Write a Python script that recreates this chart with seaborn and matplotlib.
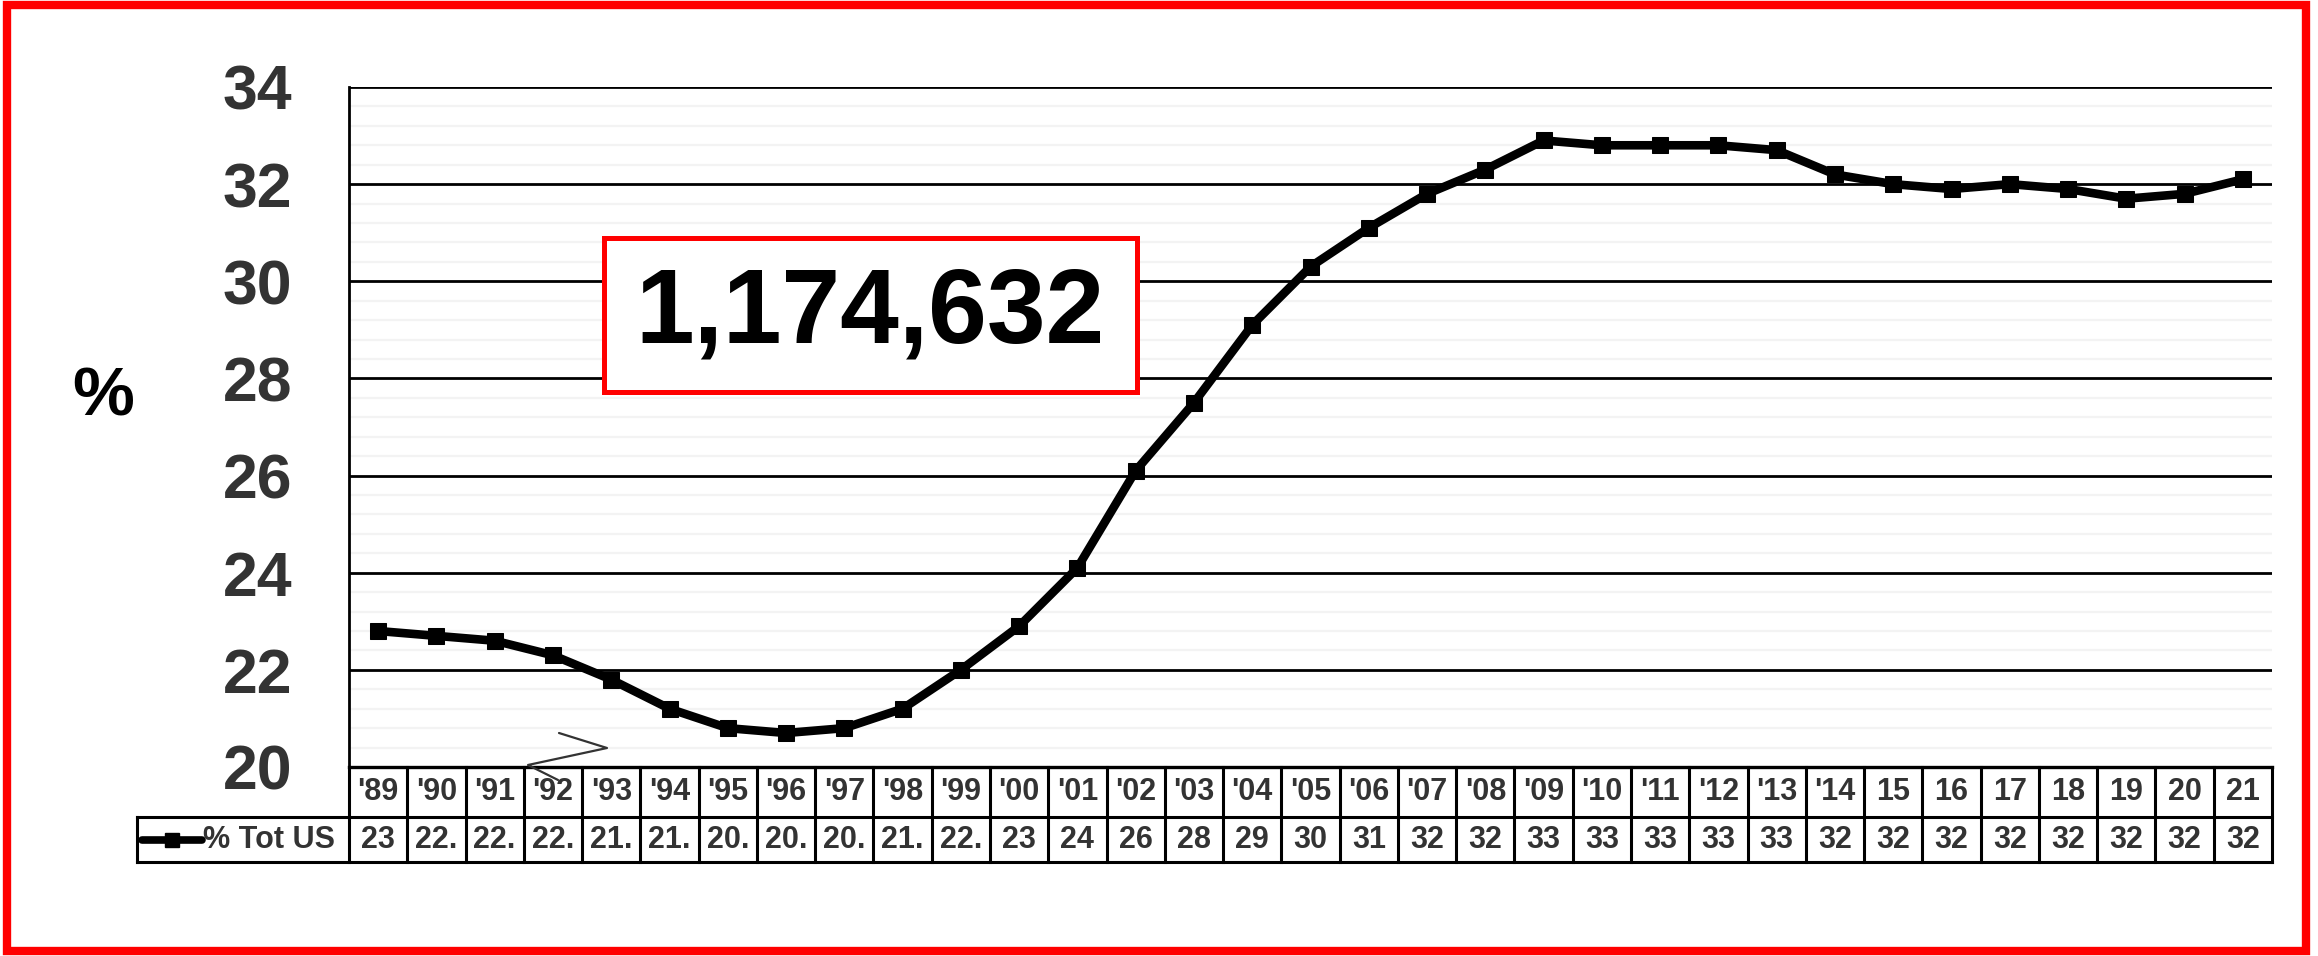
import numpy as np
import matplotlib
matplotlib.use("Agg")
import matplotlib.pyplot as plt
import seaborn as sns
from matplotlib.patches import Rectangle
from matplotlib.lines import Line2D
from matplotlib.ticker import MultipleLocator
import matplotlib.transforms as mtransforms

# ---------------- data ----------------
years = ["'89", "'90", "'91", "'92", "'93", "'94", "'95", "'96", "'97", "'98",
         "'99", "'00", "'01", "'02", "'03", "'04", "'05", "'06", "'07", "'08",
         "'09", "'10", "'11", "'12", "'13", "'14", "15", "16", "17", "18",
         "19", "20", "21"]
share = [22.8, 22.7, 22.6, 22.3, 21.8, 21.2, 20.8, 20.7, 20.8, 21.2,
         22.0, 22.9, 24.1, 26.1, 27.5, 29.1, 30.3, 31.1, 31.8, 32.3,
         32.9, 32.8, 32.8, 32.8, 32.7, 32.2, 32.0, 31.9, 32.0, 31.9,
         31.7, 31.8, 32.1]
table_vals = ["23", "22.", "22.", "22.", "21.", "21.", "20.", "20.", "20.", "21.",
              "22.", "23", "24", "26", "28", "29", "30", "31", "32", "32",
              "33", "33", "33", "33", "33", "32", "32", "32", "32", "32",
              "32", "32", "32"]
series_name = "% Tot US"
total_label = "1,174,632"
y_ticks = [20, 22, 24, 26, 28, 30, 32, 34]
y_label = "%"

# ---------------- style ----------------
sns.set_style("white")
plt.rcParams['font.family'] = ['Liberation Sans', 'DejaVu Sans']

W, H = 2318, 956
fig = plt.figure(figsize=(W / 100, H / 100), dpi=100)
ax_l, ax_r, ax_t, ax_b = 349, 2272, 87, 767
ax = fig.add_axes([ax_l / W, 1 - ax_b / H, (ax_r - ax_l) / W, (ax_b - ax_t) / H])

n = len(years)
x = np.arange(n)
sns.lineplot(x=x, y=share, ax=ax, color="black", lw=6.2, marker="s",
             markersize=11.5, markeredgecolor="black", markerfacecolor="black",
             zorder=5, legend=False)

ax.set_xlim(-0.5, n - 0.5)
ax.set_ylim(20, 34)
ax.set_yticks(y_ticks)
ax.set_yticklabels([str(v) for v in y_ticks])
ax.yaxis.set_minor_locator(MultipleLocator(0.4))
ax.set_xticks([])
ax.grid(which="major", axis="y", color="black", lw=2.0)
ax.grid(which="minor", axis="y", color="#f3f3f3", lw=1.6)
ax.set_axisbelow(True)
ax.tick_params(axis="y", which="major", length=14, width=2.0, color="black",
               pad=27, labelsize=45, labelcolor="#333333")
ax.tick_params(axis="y", which="minor", length=0)
for lab in ax.get_yticklabels():
    lab.set_fontweight("bold")
for s in ["top", "right"]:
    ax.spines[s].set_visible(False)
ax.spines["left"].set_color("black")
ax.spines["left"].set_linewidth(2.0)
ax.spines["bottom"].set_color("black")
ax.spines["bottom"].set_linewidth(2.4)
ax.set_xlabel("")
ax.set_ylabel("")

# % label
fig.text(103 / W, 1 - 398 / H, y_label, ha="center", va="center",
         fontsize=50, fontweight="bold", color="black")

# ---------------- data table ----------------
trans = mtransforms.blended_transform_factory(ax.transData, ax.transAxes)
axh = ax_b - ax_t
colw = (ax_r - ax_l) / n
y1 = -50 / axh
y2 = -95 / axh
x_leg = -0.5 + (137 - ax_l) / colw
lw_t = 2.2
kw = dict(transform=trans, clip_on=False, color="black", lw=lw_t,
          solid_capstyle="projecting")
ax.plot([-0.5, n - 0.5], [y1, y1], **kw)
ax.plot([x_leg, n - 0.5], [y2, y2], **kw)
ax.plot([x_leg, -0.5], [y1, y1], **kw)
ax.plot([x_leg, x_leg], [y1, y2], **kw)
for i in range(n + 1):
    ax.plot([i - 0.5, i - 0.5], [0, y2], **kw)
for i in range(n):
    ax.text(i, y1 / 2, years[i], transform=trans, ha="center", va="center",
            fontsize=22, fontweight="bold", color="#333333")
    ax.text(i, (y1 + y2) / 2, table_vals[i], transform=trans, ha="center",
            va="center", fontsize=22, fontweight="bold", color="#333333")
# legend key in the table
xk0 = x_leg + (142 - 137) / colw
xk1 = x_leg + (202 - 137) / colw
ax.add_line(Line2D([xk0, xk1], [(y1 + y2) / 2] * 2, transform=trans,
                   clip_on=False, color="black", lw=5.5, solid_capstyle="round"))
ax.add_line(Line2D([(xk0 + xk1) / 2], [(y1 + y2) / 2], transform=trans,
                   clip_on=False, marker="s", markersize=9.5, color="black", lw=0))
ax.text(x_leg + (203 - 137) / colw, (y1 + y2) / 2, series_name, transform=trans,
        ha="left", va="center", fontsize=22, fontweight="bold", color="#333333")

# axis-break zigzag
zx = [559, 607, 528, 558]
zy = [733, 748, 765, 780]
fig.add_artist(Line2D([v / W for v in zx], [1 - v / H for v in zy],
                      color="#333333", lw=1.6))

# ---------------- total box ----------------
bx0, bx1, by0, by1 = 604, 1137, 238, 392
box = Rectangle(((bx0 - ax_l) / (ax_r - ax_l), (ax_b - by1) / axh),
                (bx1 - bx0) / (ax_r - ax_l), (by1 - by0) / axh,
                transform=ax.transAxes, facecolor="white", edgecolor="red",
                lw=3.6, zorder=6)
ax.add_patch(box)
ax.text(((bx0 + bx1) / 2 - ax_l) / (ax_r - ax_l), (ax_b - (by0 + by1) / 2) / axh,
        total_label, transform=ax.transAxes, ha="center", va="center",
        fontsize=76, fontweight="bold", color="black", zorder=7)

# ---------------- red frame ----------------
fig.add_artist(Rectangle((7 / W, 5 / H), (2306 - 7) / W, (951 - 5) / H,
                         transform=fig.transFigure, fill=False,
                         edgecolor="red", lw=6))

fig.savefig("out.png", dpi=100, facecolor="white")
